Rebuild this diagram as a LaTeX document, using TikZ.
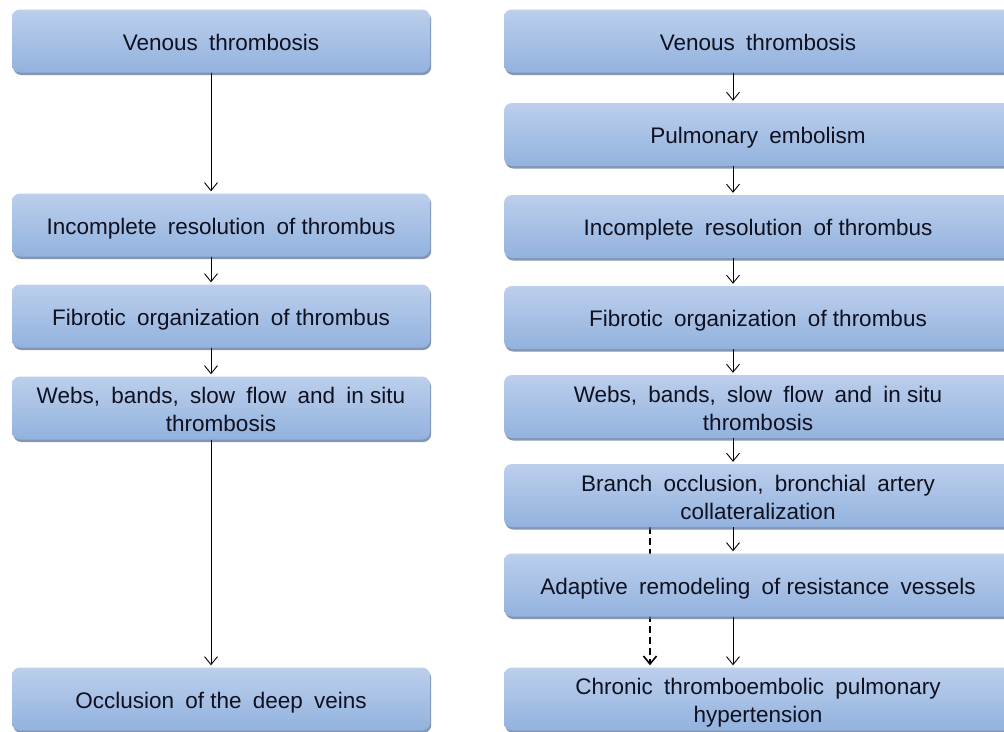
\documentclass[tikz,border=0pt]{standalone}
\usepackage{fontspec}
\setmainfont{Liberation Sans}
\usetikzlibrary{arrows.meta,shadows,backgrounds}
\definecolor{boxtop}{RGB}{188,207,236}
\definecolor{boxbot}{RGB}{146,178,222}
\definecolor{boxshadow}{RGB}{90,115,155}
\definecolor{txt}{RGB}{15,17,32}
\newcommand{\gp}{\hspace{0.5em}}
\newcommand{\sr}{\rule[-4pt]{0pt}{27pt}}
\begin{document}
\begin{tikzpicture}[x=1pt,y=-1pt,
  box/.style={rounded corners=8pt, top color=boxtop, bottom color=boxbot, draw=none,
    align=center, font=\fontsize{22.5}{28}\selectfont, text=txt, inner sep=0pt,
    minimum height=63pt,
    drop shadow={shadow xshift=1.2pt, shadow yshift=-2.5pt, fill=boxshadow, opacity=0.75}},
  lbox/.style={box, minimum width=418pt},
  rbox/.style={box, minimum width=508pt},
  arr/.style={-{Straight Barb[length=8pt,width=13pt]}, line width=0.9pt, shorten >=2pt},
  darr/.style={-{Straight Barb[length=8pt,width=13pt,line width=1.6pt]}, line width=1.6pt,
    dash pattern=on 7pt off 4pt, shorten >=2pt}]
\useasboundingbox (0,0) rectangle (1004,731);
\coordinate (lx) at (211,0);
\coordinate (rx) at (733,0);
\coordinate (dx) at (650,0);
% left column
\node[lbox] (L1) at (221,41) {\sr Venous\gp thrombosis};
\node[lbox] (L2) at (221,225) {\sr Incomplete\gp resolution\gp of thrombus};
\node[lbox] (L3) at (221,316) {\sr Fibrotic\gp organization\gp of thrombus};
\node[lbox] (L4) at (221,408) {\sr Webs,\gp bands,\gp slow\gp flow\gp and\gp in situ\\\sr thrombosis};
\node[lbox] (L5) at (221,699) {\sr Occlusion\gp of the\gp deep\gp veins};
% right column
\node[rbox] (R1) at (758,41) {\sr Venous\gp thrombosis};
\node[rbox] (R2) at (758,134.5) {\sr Pulmonary\gp embolism};
\node[rbox] (R3) at (758,226.5) {\sr Incomplete\gp resolution\gp of thrombus};
\node[rbox] (R4) at (758,317.5) {\sr Fibrotic\gp organization\gp of thrombus};
\node[rbox] (R5) at (758,406.5) {\sr Webs,\gp bands,\gp slow\gp flow\gp and\gp in situ\\\sr thrombosis};
\node[rbox] (R6) at (758,495.5) {\sr Branch\gp occlusion,\gp bronchial\gp artery\\\sr collateralization};
\node[rbox] (R7) at (758,585) {\sr Adaptive\gp remodeling\gp of resistance\gp vessels};
\node[rbox] (R8) at (758,699) {\sr Chronic\gp thromboembolic\gp pulmonary\\\sr hypertension};
\begin{scope}[on background layer]
  \fill[white] (0,0) rectangle (1004,731);
  \draw[darr] (R6.south -| dx) -- (R8.north -| dx);
\end{scope}
% left arrows
\draw[arr] (L1.south -| lx) -- (L2.north -| lx);
\draw[arr] (L2.south -| lx) -- (L3.north -| lx);
\draw[arr] (L3.south -| lx) -- (L4.north -| lx);
\draw[arr] (L4.south -| lx) -- (L5.north -| lx);
% right arrows
\draw[arr] (R1.south -| rx) -- (R2.north -| rx);
\draw[arr] (R2.south -| rx) -- (R3.north -| rx);
\draw[arr] (R3.south -| rx) -- (R4.north -| rx);
\draw[arr] (R4.south -| rx) -- (R5.north -| rx);
\draw[arr] (R5.south -| rx) -- (R6.north -| rx);
\draw[arr] (R6.south -| rx) -- (R7.north -| rx);
\draw[arr] (R7.south -| rx) -- (R8.north -| rx);
\end{tikzpicture}
\end{document}
